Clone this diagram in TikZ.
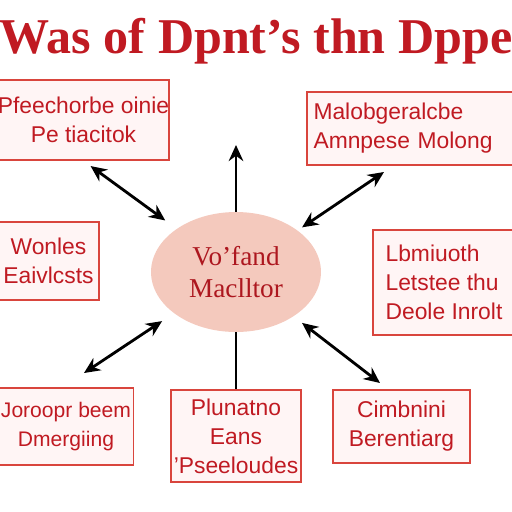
\documentclass[tikz,border=0pt]{standalone}
\usepackage{fontspec}
\setmainfont{Liberation Serif}
\setsansfont{Liberation Sans}
\usetikzlibrary{arrows.meta,positioning,shapes.geometric}
\definecolor{tred}{HTML}{C01A22}
\definecolor{bred}{HTML}{D9453D}
\definecolor{blob}{HTML}{F4C9BD}

\begin{document}
\begin{tikzpicture}[x=0.02cm,y=-0.02cm,>={Stealth[length=3.2mm,width=2.9mm]},box/.style={draw=bred,line width=1pt,fill=red!4,inner sep=0pt,align=center,text=tred,font=\sffamily\fontsize{13}{16.5}\selectfont},link/.style={line width=1.6pt,draw=black}]
\useasboundingbox (0,0) rectangle (512,512);
\node[text=tred,font=\bfseries\fontsize{28.5}{32}\selectfont] (title) at (256,41) {Was of Dpnt's thn Dppe};
\node[box,minimum width=3.34cm,minimum height=1.6cm] (tl) at (83.5,120) {Pfeechorbe oinie\\Pe tiacitok};
\node[box,minimum width=4.16cm,minimum height=1.46cm,align=left,text width=3.9cm] (tr) at (411,128.5) {Malobgeralcbe\\Amnpese Molong};
\node[box,minimum width=2.02cm,minimum height=1.56cm] (ml) at (48.5,261) {Wonles\\Eaivlcsts};
\node[ellipse,fill=blob,minimum width=3.4cm,minimum height=2.4cm,inner sep=0pt,align=center,text=tred!90!black,font=\fontsize{15.5}{18.5}\selectfont] (c) at (236,272) {Vo'fand\\Maclltor};
\node[box,minimum width=2.84cm,minimum height=2.1cm,align=left] (mr) at (444,282.5) {Lbmiuoth\\Letstee thu\\Deole Inrolt};
\node[box,minimum width=2.7cm,minimum height=1.54cm,font=\sffamily\fontsize{12}{16.5}\selectfont] (bl) at (66,426.5) {Joroopr beem\\Dmergiing};
\node[box,minimum width=2.6cm,minimum height=1.84cm] (bc) at (236,436) {Plunatno\\Eans\\'Pseeloudes};
\node[box,minimum width=2.74cm,minimum height=1.46cm] (br) at (401.5,426.5) {Cimbnini\\Berentiarg};
\coordinate (trend) at (384,172);
\coordinate (upend) at (236,145);
\coordinate (blend) at (84,373);
\coordinate (brend) at (380,383);
\draw[link,<->,shorten <=5pt,shorten >=8pt] (tl.south) -- (c);
\draw[link,<->,shorten <=3pt] (c) -- (trend);
\draw[link,->] (c.north) -- (upend);
\draw[link,<->,shorten <=8pt] (c) -- (blend);
\draw[link,<->,shorten <=6pt] (c) -- (brend);
\draw[link] (c.south) -- (bc.north);
\end{tikzpicture}
\end{document}
